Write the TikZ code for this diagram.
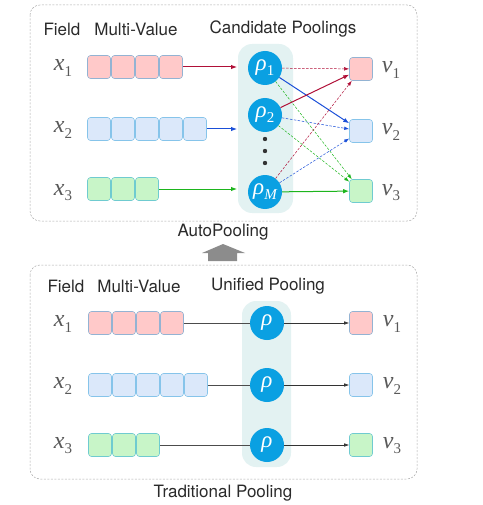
\documentclass[tikz,border=0pt]{standalone}
\usepackage{fontspec}
\setmainfont{TeX Gyre Heros}
\newfontfamily\symfont{Liberation Serif}
\usetikzlibrary{arrows.meta}

\definecolor{cellred}{HTML}{FFC9C9}
\definecolor{cellblue}{HTML}{DBE8FA}
\definecolor{cellgreen}{HTML}{C8F5C8}
\definecolor{edgered}{HTML}{93B3D3}
\definecolor{edgeblue}{HTML}{86C4EA}
\definecolor{edgegreen}{HTML}{6FCBD0}
\definecolor{poolblue}{HTML}{0AA0E2}
\definecolor{poolbg}{HTML}{E3F2F2}
\definecolor{linkred}{HTML}{B01038}
\definecolor{linkblue}{HTML}{1A4FD8}
\definecolor{linkgreen}{HTML}{1DB51D}
\definecolor{framegray}{HTML}{AAAAAA}
\definecolor{textgray}{HTML}{2A2A2A}

\newcommand{\sym}[2]{{\symfont\itshape #1}\raisebox{-0.4ex}{\fontsize{15}{15}\selectfont\symfont #2}}

\begin{document}
\begin{tikzpicture}[x=1pt, y=-1pt, font=\fontsize{17}{20}\selectfont, text=textgray,
    frame/.style={draw=framegray, dash pattern=on 2pt off 1.5pt, line width=0.5pt, rounded corners=10pt},
    bgbar/.style={fill=poolbg, rounded corners=14pt},
    cell/.style={draw=#1, rounded corners=3pt, minimum size=23pt, inner sep=0pt, line width=0.6pt},
    pool/.style={circle, fill=poolblue, minimum size=34pt, inner sep=0pt, text=white, font=\fontsize{23}{23}\selectfont},
    var/.style={font=\fontsize{24}{24}\selectfont, text=black!65},
    link/.style={-{Latex[length=6pt,width=4.5pt]}, line width=1pt},
    weak/.style={-{Latex[length=5pt,width=3.5pt]}, line width=0.5pt, dash pattern=on 2.5pt off 1.5pt},
    plain/.style={line width=0.6pt, draw=black!70}]
    \useasboundingbox (0,0) rectangle (482,505);

    % AutoPooling (top)
    \draw[frame] (30,5) rectangle (417,221);
    \fill[bgbar] (238,44) rectangle (293,213);

    \node (hfield) at (62,29) {Field};
    \node (hmulti) at (136,29) {Multi-Value};
    \node (hcand) at (283,29) {Candidate Poolings};

    \node[var] (x1) at (63,68) {\sym{x}{1}};
    \node[var] (x2) at (63,130) {\sym{x}{2}};
    \node[var] (x3) at (63,193) {\sym{x}{3}};

    \foreach \i in {1,...,4}
        \node[cell=edgered, fill=cellred] (ra\i) at ({75+24*\i},67) {};
    \foreach \i in {1,...,5}
        \node[cell=edgeblue, fill=cellblue] (ba\i) at ({75+24*\i},129) {};
    \foreach \i in {1,...,3}
        \node[cell=edgegreen, fill=cellgreen] (ga\i) at ({75+24*\i},189) {};

    \node[pool] (p1) at (265,68) {\sym{ρ}{1}};
    \node[pool] (p2) at (265,115) {\sym{ρ}{2}};
    \node[pool] (pM) at (265,192) {\sym{ρ}{\itshape M}};
    \foreach \y in {139,151,163}
        \fill[black!80] (265,\y) circle (2.2pt);

    \node[cell=edgered, fill=cellred] (v1) at (361,69) {};
    \node[cell=edgeblue, fill=cellblue] (v2) at (361,131) {};
    \node[cell=edgegreen, fill=cellgreen] (v3) at (361,191) {};
    \node[var] (lv1) at (391,70) {\sym{v}{1}};
    \node[var] (lv2) at (391,132) {\sym{v}{2}};
    \node[var] (lv3) at (391,193) {\sym{v}{3}};

    \coordinate (in1) at (237,67);
    \coordinate (in2) at (237,129);
    \coordinate (in3) at (237,189);
    \draw[link, linkred] (ra4.east) -- (in1);
    \draw[link, linkblue] (ba5.east) -- (in2);
    \draw[link, linkgreen] (ga3.east) -- (in3);

    \draw[weak, linkred] (p1) -- (v1);
    \draw[link, linkblue] (p1) -- (v2);
    \draw[weak, linkgreen] (p1) -- (v3);
    \draw[link, linkred] (p2) -- (v1);
    \draw[weak, linkblue] (p2) -- (v2);
    \draw[weak, linkgreen] (p2) -- (v3);
    \draw[weak, linkred] (pM) -- (v1);
    \draw[weak, linkblue] (pM) -- (v2);
    \draw[link, linkgreen] (pM) -- (v3);

    \node (auto) at (223,232) {AutoPooling};

    % arrow between the two panels
    \fill[black!45] (208,261) -- (208,253) -- (202,253) -- (223,244) -- (245,253) -- (237,253) -- (237,261) -- cycle;

    % Traditional Pooling (bottom)
    \draw[frame] (30,265) rectangle (417,479);
    \fill[bgbar] (242,301) rectangle (291,467);

    \node (bfield) at (66,286) {Field};
    \node (bmulti) at (139,286) {Multi-Value};
    \node (bunif) at (268,286) {Unified Pooling};

    \node[var] (y1) at (63,324) {\sym{x}{1}};
    \node[var] (y2) at (63,386) {\sym{x}{2}};
    \node[var] (y3) at (63,446) {\sym{x}{3}};

    \foreach \i in {1,...,4}
        \node[cell=edgered, fill=cellred] (rb\i) at ({76+24*\i},323) {};
    \foreach \i in {1,...,5}
        \node[cell=edgeblue, fill=cellblue] (bb\i) at ({76+24*\i},385) {};
    \foreach \i in {1,...,3}
        \node[cell=edgegreen, fill=cellgreen] (gb\i) at ({76+24*\i},445) {};

    \node[pool] (q1) at (267,323) {\sym{ρ}{}};
    \node[pool] (q2) at (267,385) {\sym{ρ}{}};
    \node[pool] (q3) at (267,445) {\sym{ρ}{}};

    \node[cell=edgered, fill=cellred] (w1) at (361,323) {};
    \node[cell=edgeblue, fill=cellblue] (w2) at (361,385) {};
    \node[cell=edgegreen, fill=cellgreen] (w3) at (361,445) {};
    \node[var] (lw1) at (392,324) {\sym{v}{1}};
    \node[var] (lw2) at (392,386) {\sym{v}{2}};
    \node[var] (lw3) at (392,446) {\sym{v}{3}};

    \draw[plain] (rb4.east) -- (q1);
    \draw[plain] (bb5.east) -- (q2);
    \draw[plain] (gb3.east) -- (q3);
    \draw[plain, -{Latex[length=5pt,width=3.5pt]}, black!80] (q1) -- (w1);
    \draw[plain, -{Latex[length=5pt,width=3.5pt]}, black!80] (q2) -- (w2);
    \draw[plain, -{Latex[length=5pt,width=3.5pt]}, black!80] (q3) -- (w3);

    \node (trad) at (223,493) {Traditional Pooling};
\end{tikzpicture}
\end{document}
